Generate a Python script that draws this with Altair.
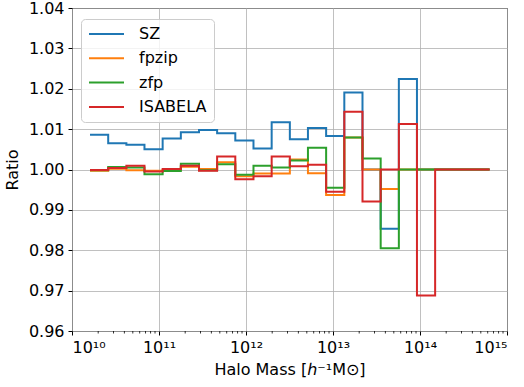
import altair as alt
import pandas as pd

# bin edges (log10 of halo mass)
edges_log10 = [10.207, 10.416, 10.625, 10.833, 11.042, 11.251, 11.460, 11.668,
               11.877, 12.086, 12.295, 12.504, 12.712, 12.921, 13.130, 13.339,
               13.548, 13.757, 13.965, 14.174, 14.383, 14.592, 14.800]

series_names = ["SZ", "fpzip", "zfp", "ISABELA"]
colors = ["#1f77b4", "#ff7f0e", "#2ca02c", "#d62728"]

sz = [1.0086, 1.0065, 1.0061, 1.0050, 1.0077, 1.0092, 1.0098, 1.0090, 1.0072, 1.0052, 1.0117,
      1.0075, 1.0103, 1.0083, 1.0191, 1.0000, 0.9853, 1.0224, 1.0000, 1.0000, 1.0000, 1.0000]
fpzip = [0.9997, 1.0002, 0.9998, 0.9997, 0.9999, 1.0007, 1.0001, 1.0018, 0.9983, 0.9990, 0.9990,
         1.0025, 0.9991, 0.9937, 1.0079, 1.0000, 0.9952, 1.0000, 1.0000, 1.0000, 1.0000, 1.0000]
zfp = [0.9998, 1.0006, 1.0005, 0.9988, 0.9996, 1.0014, 0.9998, 1.0013, 0.9987, 1.0009, 1.0005,
       1.0022, 1.0054, 0.9955, 1.0079, 1.0027, 0.9805, 1.0000, 1.0000, 1.0000, 1.0000, 1.0000]
isabela = [0.9999, 1.0004, 1.0009, 0.9995, 1.0001, 1.0009, 0.9997, 1.0032, 0.9976, 0.9983, 1.0032,
           1.0008, 1.0012, 0.9945, 1.0143, 0.9921, 1.0000, 1.0113, 0.9688, 1.0000, 1.0000, 1.0000]

y_ticks = [0.96, 0.97, 0.98, 0.99, 1.00, 1.01, 1.02, 1.03, 1.04]
x_tick_exps = [10, 11, 12, 13, 14, 15]
x_tick_labels = ["10¹⁰", "10¹¹", "10¹²", "10¹³", "10¹⁴", "10¹⁵"]

rows = []
for name, vals in zip(series_names, [sz, fpzip, zfp, isabela]):
    vv = vals + [vals[-1]]
    for e, v in zip(edges_log10, vv):
        rows.append({"mass": 10 ** e, "ratio": v, "series": name})
df = pd.DataFrame(rows)

minor = pd.DataFrame({"mass": [k * 10.0 ** d for d in range(10, 15) for k in range(2, 10)]})

W, H = 435, 323
FONT = "DejaVu Sans"

x_vals = [10.0 ** e for e in x_tick_exps]
expr = "'" + x_tick_labels[-1] + "'"
for e, lbl in reversed(list(zip(x_tick_exps[:-1], x_tick_labels[:-1]))):
    expr = f"datum.value < {3 * 10 ** e} ? '{lbl}' : " + expr

xscale = alt.Scale(type="log", domain=[1e10, 1e15], nice=False)
yscale = alt.Scale(domain=[0.96, 1.04], nice=False, zero=False)

x_axis = alt.Axis(values=x_vals, labelExpr=expr, title="Halo Mass [ℎ⁻¹M⊙]",
                  grid=True, titlePadding=6)

legend = alt.Legend(
    title=None, orient="none", legendX=9, legendY=11,
    symbolType="M-1,0H4", symbolSize=196, symbolStrokeWidth=2,
    labelFontSize=16, labelFont=FONT, labelOffset=35, rowPadding=8.3,
    padding=7, fillColor="rgba(255,255,255,0.8)", strokeColor="#cccccc",
    cornerRadius=4, labelColor="black",
)

layers = []
for name in series_names:
    layers.append(
        alt.Chart(df).transform_filter(alt.datum.series == name).mark_line(
            interpolate="step-after", strokeWidth=2
        ).encode(
            x=alt.X("mass:Q", scale=xscale, axis=x_axis),
            y=alt.Y("ratio:Q", scale=yscale,
                    axis=alt.Axis(values=y_ticks, format=".2f", title="Ratio", titlePadding=8)),
            color=alt.Color("series:N", scale=alt.Scale(domain=series_names, range=colors),
                            legend=legend),
        )
    )

minor_ticks = alt.Chart(minor).mark_rule(color="black", strokeWidth=0.8).encode(
    x=alt.X("mass:Q", scale=xscale, axis=x_axis),
    y=alt.value(H), y2=alt.value(H + 2.5),
)

chart = alt.layer(*layers, minor_ticks).properties(
    width=W, height=H,
    autosize=alt.AutoSizeParams(type="none"),
    padding={"left": 72, "top": 8, "right": 17, "bottom": 56},
).configure_view(
    stroke="black", strokeWidth=1
).configure_axis(
    labelFont=FONT, titleFont=FONT, labelFontSize=16, titleFontSize=16,
    labelColor="black", titleColor="black", titleFontWeight="normal",
    domain=False, tickColor="black", tickSize=4, tickWidth=1, labelPadding=4,
    gridColor="#b0b0b0", gridWidth=0.8,
)

chart.save("out.html", embed_options={"renderer": "svg", "actions": False})
